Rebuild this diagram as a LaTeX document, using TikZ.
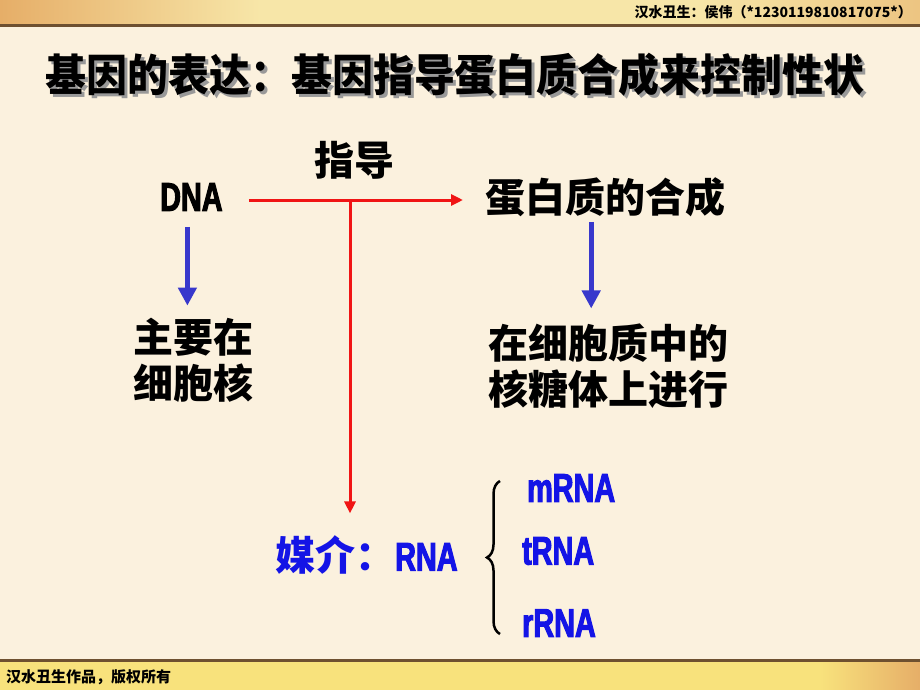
\documentclass[tikz,border=0pt]{standalone}
\usepackage{fontspec}
\usetikzlibrary{positioning,arrows.meta,decorations.pathreplacing}
\newfontfamily\cjk{Noto Sans CJK SC}
\newfontfamily\cjktitle{Noto Sans CJK SC}[FakeStretch=0.93]
\newfontfamily\narrow{Liberation Sans}[BoldFont={Liberation Sans Bold},BoldFeatures={FakeStretch=0.72,FakeBold=2.5},FakeStretch=0.72]
\definecolor{paper}{HTML}{FBF1DE}
\definecolor{bandgold}{HTML}{F7E6A8}
\definecolor{bandorange}{HTML}{E6AE68}
\definecolor{bandyellow}{HTML}{F8E27C}
\definecolor{bandline}{HTML}{6E5030}
\definecolor{arrowred}{HTML}{F01414}
\definecolor{arrowblue}{HTML}{3838CC}
\definecolor{textblue}{HTML}{1414E6}

\begin{document}
\begin{tikzpicture}[x=1pt,y=-1pt,
  every node/.style={inner sep=0pt},
  cjktext/.style={font=\cjk\bfseries\fontsize{40}{46}\selectfont},
  latintext/.style={font=\narrow\bfseries\fontsize{40}{46}\selectfont},
  titletext/.style={font=\cjktitle\bfseries\fontsize{44}{44}\selectfont},
  smalltext/.style={font=\cjk\bfseries\fontsize{#1}{#1}\selectfont},
  redarrow/.style={draw=arrowred,line width=3pt,-{Triangle[length=12pt,width=11pt]}},
  bluearrow/.style={draw=arrowblue,line width=5pt,-{Triangle[length=18pt,width=18pt]}}]
% page and bands
\fill[paper] (0,0) rectangle (920,690);
\shade[left color=bandorange,right color=bandgold] (0,0) rectangle (260,25);
\fill[bandgold] (260,0) rectangle (700,25);
\shade[left color=bandgold,right color=bandorange!60!bandgold] (700,0) rectangle (920,25);
\fill[bandline] (0,24) rectangle (920,27);
\fill[bandyellow] (0,662) rectangle (820,690);
\shade[left color=bandyellow,right color=bandorange] (820,662) rectangle (920,690);
\fill[bandline] (0,659) rectangle (920,662);
\node[smalltext=14,anchor=east] (author) at (912,12) {汉水丑生：侯伟（*1230119810817075*）};
\node[smalltext=15,anchor=west] (credit) at (6,677) {汉水丑生作品，版权所有};
% title with shadow
\node[titletext,text=black!40] (title shadow) at (458,78) {基因的表达：基因指导蛋白质合成来控制性状};
\node[titletext] (title) at (455,75) {基因的表达：基因指导蛋白质合成来控制性状};
% DNA -> protein
\node[latintext,anchor=west] (dna) at (160,197) {DNA};
\node[cjktext,anchor=west] (protein) at (485,197) {蛋白质的合成};
\node[cjktext] (guide) at (354,160) {指导};
\draw[redarrow,shorten <=26pt,shorten >=22pt] ([yshift=-3pt]dna.east) -- ([yshift=-3pt]protein.west);
\coordinate (split) at (350,200);
% where it happens
\node[cjktext,align=center] (nucleus) at (193,360) {主要在\\细胞核};
\node[cjktext,align=center] (site) at (608,366) {在细胞质中的\\核糖体上进行};
\draw[bluearrow,shorten <=16pt,shorten >=12pt] ([xshift=-4pt]dna.south) -- ([xshift=-4pt]dna.south |- nucleus.north);
\draw[bluearrow,shorten <=5pt,shorten >=15pt] ([xshift=-14pt]protein.south) -- ([xshift=-14pt]protein.south |- site.north);
% medium RNA
\node[text=textblue,anchor=west] (medium) at (275,555) {\cjk\bfseries\fontsize{40}{46}\selectfont 媒介：\narrow\bfseries RNA};
\draw[redarrow,shorten >=22pt] (split) -- (split |- medium.north);
\node[latintext,text=textblue,anchor=west] (mrna) at (527,488) {mRNA};
\node[latintext,text=textblue,anchor=west] (trna) at (522,551) {tRNA};
\node[latintext,text=textblue,anchor=west] (rrna) at (522,623) {rRNA};
\coordinate (brace bottom) at (500,634);
\coordinate (brace top) at (500,481);
\draw[decorate,decoration={brace,amplitude=13pt},line width=2.5pt] (brace bottom) -- (brace top);
\end{tikzpicture}
\end{document}
